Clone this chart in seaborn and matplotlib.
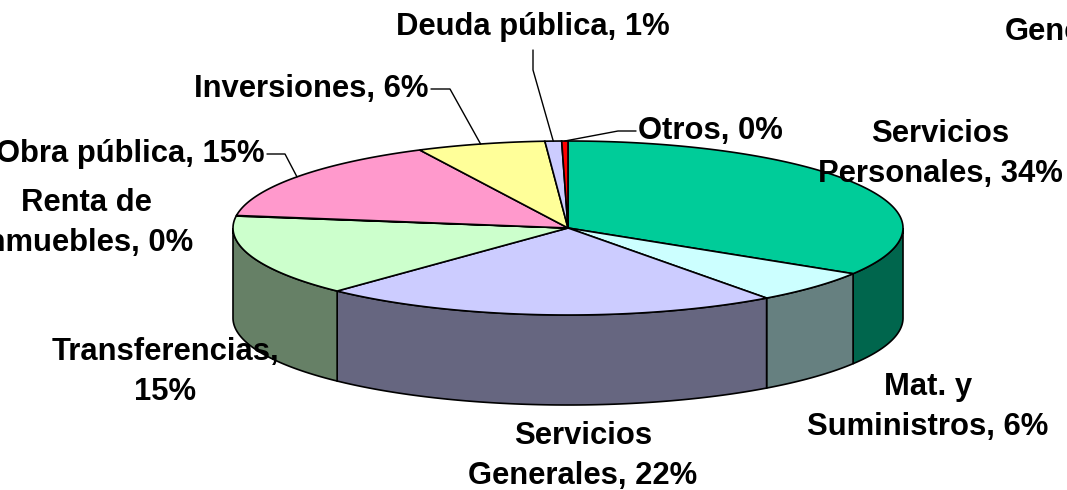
import numpy as np
import matplotlib
matplotlib.use("Agg")
import matplotlib.pyplot as plt
from matplotlib.patches import Polygon
import seaborn as sns

# data (shares of spending, %), clockwise from 12 o'clock
categories = ["Servicios\nPersonales", "Mat. y\nSuministros", "Servicios\nGenerales",
              "Transferencias,\n", "Renta de\nInmuebles", "Obra pública", "Inversiones",
              "Deuda pública", "Otros"]
shares = [33.8, 6.1, 22.2, 15.1, 0.1, 15.4, 6.2, 0.8, 0.3]
top_colors = ["#00CC99", "#CCFFFF", "#CCCCFF", "#CCFFCC", "#99CCFF",
              "#FF99CC", "#FFFF99", "#CCCCFF", "#FF0000"]

sns.set_theme(style="white")
plt.rcParams["font.family"] = ["Liberation Sans", "DejaVu Sans"]

fig = plt.figure(figsize=(10.67, 4.90), dpi=100)
ax = fig.add_axes([0, 0, 1, 1])
ax.set_xlim(0, 1067)
ax.set_ylim(490, 0)
ax.axis("off")

cx, cy, rx, ry, depth = 568, 228, 335, 87, 90


def pt(t, dy=0):
    r = np.radians(t)
    return cx + rx * np.sin(r), cy - ry * np.cos(r) + dy


def darker(c):
    rgb = np.array(matplotlib.colors.to_rgb(c))
    return tuple(rgb * 0.5)


bounds = np.concatenate([[0], np.cumsum(shares)]) / sum(shares) * 360

# side walls (front half only)
for i, col in enumerate(top_colors):
    a, b = max(bounds[i], 90), min(bounds[i + 1], 270)
    if b <= a:
        continue
    t = np.linspace(a, b, 80)
    xs, ys = pt(t)
    xb, yb = pt(t[::-1], depth)
    poly = np.column_stack([np.concatenate([xs, xb]), np.concatenate([ys, yb])])
    ax.add_patch(Polygon(poly, closed=True, facecolor=darker(col),
                         edgecolor="black", lw=1.2, zorder=2))

# top faces
for i, col in enumerate(top_colors):
    t = np.linspace(bounds[i], bounds[i + 1], max(4, int(bounds[i + 1] - bounds[i]) * 2))
    xs, ys = pt(t)
    poly = np.column_stack([np.concatenate([[cx], xs]), np.concatenate([[cy], ys])])
    ax.add_patch(Polygon(poly, closed=True, facecolor=col,
                         edgecolor="black", lw=1.2, zorder=3))

labels = [f"{n}, {round(v)}%" if not n.endswith("\n") else f"{n}{round(v)}%"
          for n, v in zip(categories, shares)]

# label placement: x, y, ha, leader elbow (or None)
place = [
    (940, 154, "center", None),
    (928, 407, "center", None),
    (583, 456, "center", None),
    (165, 372, "center", None),
    (86, 223, "center", None),
    (265, 154, "right", (285, 154)),
    (429, 89, "right", (450, 89)),
    (533, 27, "center", (533, 70)),
    (638, 131, "left", (618, 131)),
]

mids = (bounds[:-1] + bounds[1:]) / 2
for i, (x, y, ha, elbow) in enumerate(place):
    ax.text(x, y, labels[i], ha=ha, va="center", fontsize=22.3, fontweight="bold",
            linespacing=1.42, color="black", zorder=5)
    if elbow is not None:
        ex, ey = pt(mids[i])
        if ha == "center":
            start = (x, y + 23)
        elif ha == "right":
            start = (x + 2, y)
        else:
            start = (x - 2, y)
        ax.plot([start[0], elbow[0], ex], [start[1], elbow[1], ey],
                color="black", lw=1, zorder=4)

# cut-off title fragment at right edge (as in the original)
ax.text(1005, 32, "General", ha="left", va="center", fontsize=22.3,
        fontweight="bold", color="black", zorder=5)

fig.savefig("out.png", dpi=100)
